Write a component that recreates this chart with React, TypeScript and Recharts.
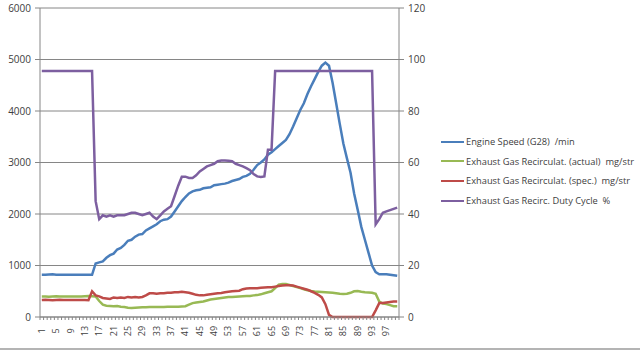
import React from 'react';
import { LineChart, Line, XAxis, YAxis, CartesianGrid, Legend } from 'recharts';

const categories = [
  '1','2','3','4','5','6','7','8','9','10','11','12','13','14','15','16','17','18','19','20',
  '21','22','23','24','25','26','27','28','29','30','31','32','33','34','35','36','37','38','39','40',
  '41','42','43','44','45','46','47','48','49','50','51','52','53','54','55','56','57','58','59','60',
  '61','62','63','64','65','66','67','68','69','70','71','72','73','74','75','76','77','78','79','80',
  '81','82','83','84','85','86','87','88','89','90','91','92','93','94','95','96','97','98','99','100',
];

const engineSpeed = [
  820, 820, 825, 830, 820, 820, 820, 820, 820, 820, 820, 820, 820, 820, 820, 1040, 1060, 1080, 1150, 1200,
  1230, 1310, 1340, 1400, 1480, 1500, 1560, 1600, 1610, 1680, 1720, 1760, 1800, 1860, 1890, 1900, 1950, 2050, 2150, 2250,
  2330, 2400, 2440, 2460, 2470, 2500, 2510, 2520, 2560, 2570, 2580, 2590, 2610, 2640, 2660, 2680, 2720, 2740, 2780, 2860,
  2950, 3000, 3060, 3150, 3200, 3260, 3320, 3380, 3440, 3550, 3700, 3860, 4020, 4150, 4330, 4480, 4620, 4760, 4880, 4940,
  4880, 4550, 4150, 3750, 3370, 3080, 2800, 2400, 2080, 1750, 1500, 1250, 1000, 870, 830, 830, 830, 820, 810, 800,
];

const egrActual = [
  400, 400, 395, 400, 405, 400, 400, 400, 400, 400, 400, 400, 405, 410, 405, 400, 310, 240, 220, 215,
  210, 215, 200, 195, 180, 175, 180, 185, 190, 190, 195, 195, 195, 195, 195, 200, 200, 200, 200, 205,
  210, 240, 270, 280, 290, 300, 320, 340, 350, 360, 370, 380, 390, 390, 395, 400, 405, 410, 410, 420,
  425, 440, 460, 480, 500, 560, 630, 640, 640, 620, 600, 580, 560, 540, 520, 505, 495, 490, 485, 480,
  475, 470, 460, 450, 445, 450, 470, 500, 505, 490, 480, 475, 470, 450, 300, 260, 250, 230, 210, 210,
];

const egrSpec = [
  330, 335, 330, 325, 330, 335, 330, 330, 330, 330, 330, 330, 330, 325, 500, 420, 400, 370, 360, 350,
  380, 370, 380, 370, 390, 380, 390, 380, 390, 420, 460, 460, 450, 460, 460, 470, 470, 480, 480, 490,
  480, 470, 450, 430, 420, 420, 430, 440, 450, 460, 465, 480, 490, 500, 505, 510, 540, 555, 560, 560,
  560, 570, 575, 580, 580, 590, 600, 610, 615, 615, 610, 590, 570, 550, 530, 500, 470, 430, 380, 250,
  40, 0, 0, 0, 0, 0, 0, 0, 0, 0, 0, 0, 0, 130, 270, 270, 280, 290, 300, 300,
];

const egrDuty = [
  95.5, 95.5, 95.5, 95.5, 95.5, 95.5, 95.5, 95.5, 95.5, 95.5, 95.5, 95.5, 95.5, 95.5, 95.5, 45, 38, 39.5, 39, 39.5,
  39, 39.5, 39.5, 39.5, 40, 40.5, 40.5, 40, 39.5, 40, 40.5, 39, 38, 39.5, 41, 42, 43, 47, 51, 54.5,
  54.5, 54, 54, 55, 56.5, 57.5, 58.5, 59, 59.5, 60.5, 60.8, 60.8, 60.7, 60.5, 59.5, 59, 58.5, 57.8, 57, 55.5,
  54.6, 54.4, 54.6, 65, 65, 95.5, 95.5, 95.5, 95.5, 95.5, 95.5, 95.5, 95.5, 95.5, 95.5, 95.5, 95.5, 95.5, 95.5, 95.5,
  95.5, 95.5, 95.5, 95.5, 95.5, 95.5, 95.5, 95.5, 95.5, 95.5, 95.5, 95.5, 95.5, 36, 38, 40.5, 41, 41.5, 42, 42.5,
];

const leftTicks = [0, 1000, 2000, 3000, 4000, 5000, 6000];
const rightTicks = [0, 20, 40, 60, 80, 100, 120];

const seriesNames = [
  'Engine Speed (G28)  /min',
  'Exhaust Gas Recirculat. (actual)  mg/str',
  'Exhaust Gas Recirculat. (spec.)  mg/str',
  'Exhaust Gas Recirc. Duty Cycle  %',
];
const seriesColors = ['#4A7EBB', '#98B954', '#BE4B48', '#7D5FA0'];

const data = categories.map((c, i) => ({
  cat: c,
  speed: engineSpeed[i],
  actual: egrActual[i],
  spec: egrSpec[i],
  duty: egrDuty[i],
}));

const FONT = "'Open Sans', 'Liberation Sans', sans-serif";
const AXIS_COLOR = '#868686';
const TEXT_COLOR = '#404040';
const HALF = 1.795;

const XTick = (props: any) => {
  const { x, y, payload, index } = props;
  const idx = typeof index === 'number' ? index : payload.index;
  return (
    <g>
      <line x1={x - HALF} x2={x - HALF} y1={y} y2={y + 3} stroke={AXIS_COLOR} strokeWidth={1} />
      {idx === categories.length - 1 && (
        <line x1={x + HALF} x2={x + HALF} y1={y} y2={y + 3} stroke={AXIS_COLOR} strokeWidth={1} />
      )}
      {idx % 4 === 0 && (
        <text
          transform={`translate(${x + 3},${y + 14}) rotate(-90)`}
          textAnchor="middle"
          fontSize={9}
          fontFamily={FONT}
          fill={TEXT_COLOR}
        >
          {payload.value}
        </text>
      )}
    </g>
  );
};

const LegendContent = () => (
  <div style={{ fontFamily: FONT, fontSize: 9.3, color: TEXT_COLOR }}>
    {seriesNames.map((n, i) => (
      <div key={n} style={{ display: 'flex', alignItems: 'center', height: 19.6, whiteSpace: 'pre' }}>
        <div style={{ width: 23, height: 2, background: seriesColors[i], marginRight: 2 }} />
        <span>{n}</span>
      </div>
    ))}
  </div>
);

export default function App() {
  return (
    <div style={{ position: 'absolute', left: 0, top: 0, width: 640, height: 351, background: '#fff' }}>
      <LineChart width={640} height={351} data={data} margin={{ top: 8, right: 0, bottom: 0, left: 0 }}>
        <CartesianGrid vertical={false} stroke={AXIS_COLOR} strokeWidth={1} yAxisId="left" />
        <XAxis
          dataKey="cat"
          interval={0}
          height={34}
          padding={{ left: HALF, right: HALF }}
          tickLine={false}
          tickSize={0}
          tickMargin={0}
          axisLine={{ stroke: AXIS_COLOR }}
          tick={<XTick />}
        />
        <YAxis
          yAxisId="left"
          domain={[0, 6000]}
          ticks={leftTicks}
          width={40}
          tickSize={5}
          tickMargin={4}
          axisLine={{ stroke: AXIS_COLOR }}
          tickLine={{ stroke: AXIS_COLOR }}
          tick={{ fontSize: 10, fontFamily: FONT, fill: TEXT_COLOR }}
        />
        <YAxis
          yAxisId="right"
          orientation="right"
          domain={[0, 120]}
          ticks={rightTicks}
          width={241}
          tickSize={5}
          tickMargin={4}
          axisLine={{ stroke: AXIS_COLOR }}
          tickLine={{ stroke: AXIS_COLOR }}
          tick={{ fontSize: 10, fontFamily: FONT, fill: TEXT_COLOR, textAnchor: 'start' }}
        />
        <Legend
          layout="vertical"
          align="center"
          verticalAlign="middle"
          content={<LegendContent />}
          wrapperStyle={{ left: 441, top: 132, width: 200, height: 80 }}
        />
        <Line yAxisId="left" dataKey="speed" name={seriesNames[0]} stroke={seriesColors[0]} strokeWidth={2.5} dot={false} isAnimationActive={false} />
        <Line yAxisId="left" dataKey="actual" name={seriesNames[1]} stroke={seriesColors[1]} strokeWidth={2.5} dot={false} isAnimationActive={false} />
        <Line yAxisId="left" dataKey="spec" name={seriesNames[2]} stroke={seriesColors[2]} strokeWidth={2.5} dot={false} isAnimationActive={false} />
        <Line yAxisId="right" dataKey="duty" name={seriesNames[3]} stroke={seriesColors[3]} strokeWidth={2.5} dot={false} isAnimationActive={false} />
      </LineChart>
      <div style={{ position: 'absolute', left: 0, top: 348, width: 640, height: 2, background: '#b4b4b4' }} />
    </div>
  );
}
